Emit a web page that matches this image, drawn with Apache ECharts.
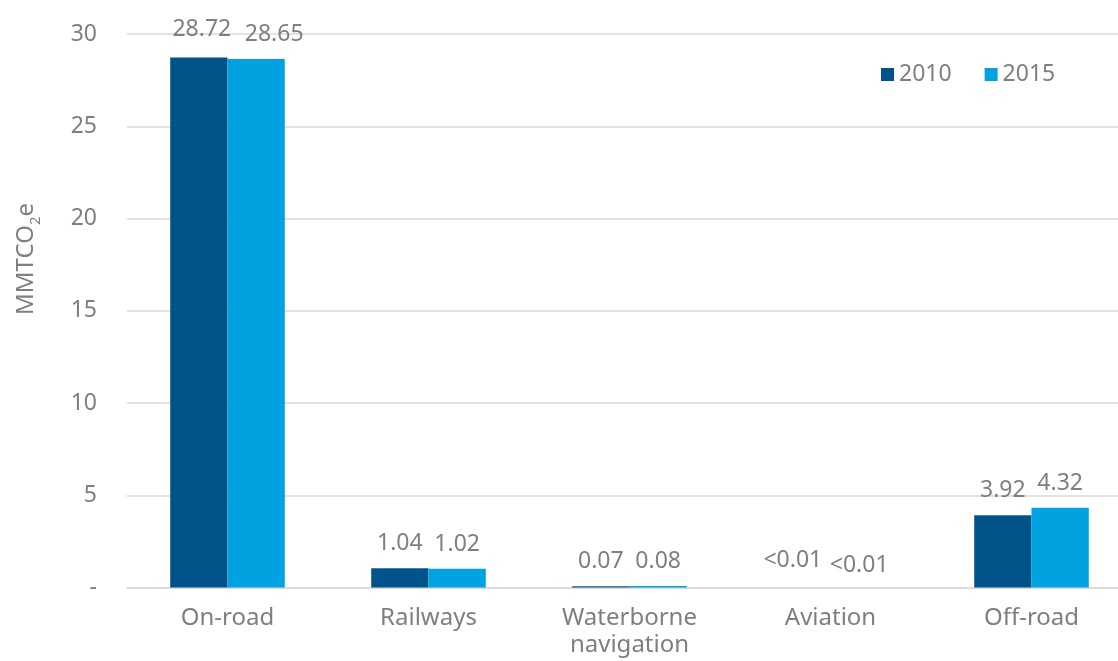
<!DOCTYPE html>
<html><head><meta charset="utf-8">
<script src="https://cdn.jsdelivr.net/npm/echarts@6/dist/echarts.min.js"></script>
<style>html,body{margin:0;padding:0;background:#fff;overflow:hidden}#c{width:1118px;height:661px}</style>
</head><body><div id="c"></div>
<script>
const categories = ['On-road', 'Railways', 'Waterborne\nnavigation', 'Aviation', 'Off-road'];
const seriesNames = ['2010', '2015'];
const values2010 = [28.72, 1.04, 0.07, 0.004, 3.92];
const values2015 = [28.65, 1.02, 0.08, 0.004, 4.32];
const labels2010 = ['28.72', '1.04', '0.07', '<0.01', '3.92'];
const labels2015 = ['28.65', '1.02', '0.08', '<0.01', '4.32'];
const yTicks = {min: 0, max: 30, interval: 5};

const FONT = '"Noto Sans", "DejaVu Sans", sans-serif';
const GREY = '#7f7f7f';
// label nudges (styling only, as in the original where crowded labels were moved apart)
const nudge2010 = {0: [3, -4], 3: [-9, -2]};
const nudge2015 = {0: [18, 0], 3: [0, 3]};
const chart = echarts.init(document.getElementById('c'), null, {renderer: 'canvas'});
function mkSeries(name, vals, labs, color, nudge) {
  return {
    name: name, type: 'bar',
    data: vals.map((v, i) => nudge[i] ? {value: v, label: {offset: nudge[i]}} : v),
    barGap: '0%', barCategoryGap: '43%',
    itemStyle: {color: color},
    label: {show: true, position: 'top', distance: 13, color: GREY, fontFamily: FONT, fontSize: 23,
      formatter: p => labs[p.dataIndex]},
    emphasis: {disabled: true}
  };
}
chart.setOption({
  animation: false,
  textStyle: {fontFamily: FONT},
  grid: {left: 127, width: 1005, top: 34, height: 553.5, containLabel: false, outerBoundsMode: 'none'},
  legend: {left: 876, top: 58, itemWidth: 13, itemHeight: 13, itemGap: 33, icon: 'rect',
    textStyle: {color: GREY, fontSize: 23, fontFamily: FONT, padding: [0,0,0,0]},
    data: seriesNames},
  xAxis: {type: 'category', data: categories,
    axisLine: {lineStyle: {color: '#d9d9d9', width: 1.5}}, axisTick: {show: false},
    axisLabel: {color: GREY, fontSize: 24, fontFamily: FONT, margin: 17, lineHeight: 27, interval: 0}},
  yAxis: {type: 'value', min: yTicks.min, max: yTicks.max, interval: yTicks.interval,
    axisLine: {show: false}, axisTick: {show: false},
    splitLine: {lineStyle: {color: '#d9d9d9', width: 1.5}},
    axisLabel: {color: GREY, fontSize: 23, fontFamily: FONT, margin: 30,
      formatter: v => v === 0 ? '-' : String(v)}},
  graphic: [{type: 'text', left: 14, top: 203, rotation: Math.PI/2,
    style: {text: '{a|MMTCO}{b|2}{a|e}', rich: {
      a: {fontSize: 24, fontFamily: FONT, fill: GREY, verticalAlign: 'bottom'},
      b: {fontSize: 15, fontFamily: FONT, fill: GREY, verticalAlign: 'bottom', padding: [0,0,-5,0]}}}}],
  series: [mkSeries(seriesNames[0], values2010, labels2010, '#00548A', nudge2010),
           mkSeries(seriesNames[1], values2015, labels2015, '#00A2E0', nudge2015)]
});
</script></body></html>
